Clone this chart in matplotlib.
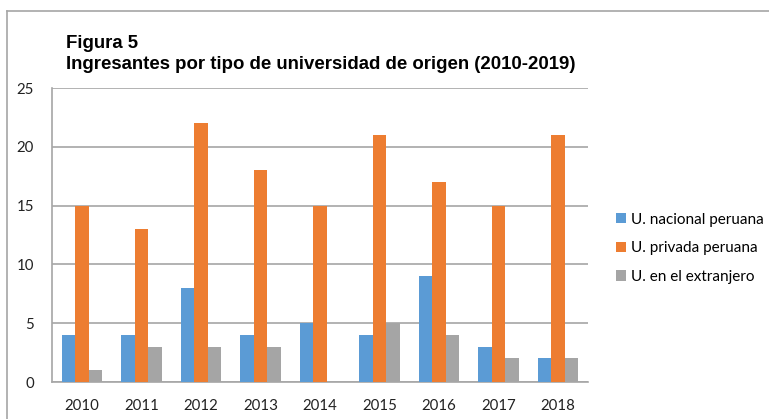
import numpy as np
import matplotlib.pyplot as plt
from matplotlib.lines import Line2D

# data
years = ['2010', '2011', '2012', '2013', '2014', '2015', '2016', '2017', '2018']
nacional = [4, 4, 8, 4, 5, 4, 9, 3, 2]
privada = [15, 13, 22, 18, 15, 21, 17, 15, 21]
extranjero = [1, 3, 3, 3, 0, 5, 4, 2, 2]
series_names = ['U. nacional peruana', 'U. privada peruana', 'U. en el extranjero']
colors = ['#5B9BD5', '#ED7D31', '#A5A5A5']
grid_color = '#A6A6A6'

fig = plt.figure(figsize=(7.69, 4.19), dpi=100)
ax = fig.add_axes([52 / 769, 1 - 382 / 419, 536 / 769, 294 / 419])

x = np.arange(len(years))
w = 0.226
for i, (vals, name, c) in enumerate(zip([nacional, privada, extranjero], series_names, colors)):
    ax.bar(x + (i - 1) * w, vals, width=w, color=c, label=name, zorder=3)

ax.set_xlim(-0.5, len(years) - 0.5)
ax.set_ylim(0, 25)
ax.set_yticks(range(0, 26, 5))
ax.set_xticks(x)
ax.set_xticklabels(years)
ax.yaxis.grid(True, color=grid_color, lw=1.2, zorder=0)
for s in ['top', 'right']:
    ax.spines[s].set_visible(False)
for s in ['left', 'bottom']:
    ax.spines[s].set_color(grid_color)
    ax.spines[s].set_linewidth(1.2)
ax.tick_params(axis='both', length=0, labelsize=10.8, colors='#222222')
ax.tick_params(axis='y', pad=13)
ax.tick_params(axis='x', pad=12)
for lbl in ax.get_xticklabels() + ax.get_yticklabels():
    lbl.set_family('Lato')

leg = fig.legend(loc='upper left', bbox_to_anchor=(602 / 769, 1 - 199 / 419),
                 frameon=False, prop={'family': 'Lato', 'size': 11.0},
                 handlelength=0.65, handleheight=0.65, handletextpad=0.35,
                 labelspacing=0.95)

fig.text(66 / 769, 1 - 43 / 419, 'Figura 5', fontsize=13.4, fontweight='bold',
         family='Liberation Sans', va='center', ha='left')
fig.text(66 / 769, 1 - 64 / 419, 'Ingresantes por tipo de universidad de origen (2010-2019)',
         fontsize=13.4, fontweight='bold', family='Liberation Sans', va='center', ha='left')

# outer chart frame (left and top edges visible)
fig.add_artist(Line2D([7 / 769, 7 / 769], [0, 1 - 11 / 419], transform=fig.transFigure,
                      color=grid_color, lw=1.2))
fig.add_artist(Line2D([7 / 769, 1], [1 - 11 / 419, 1 - 11 / 419], transform=fig.transFigure,
                      color=grid_color, lw=1.2))

fig.savefig('out.png', dpi=100)
